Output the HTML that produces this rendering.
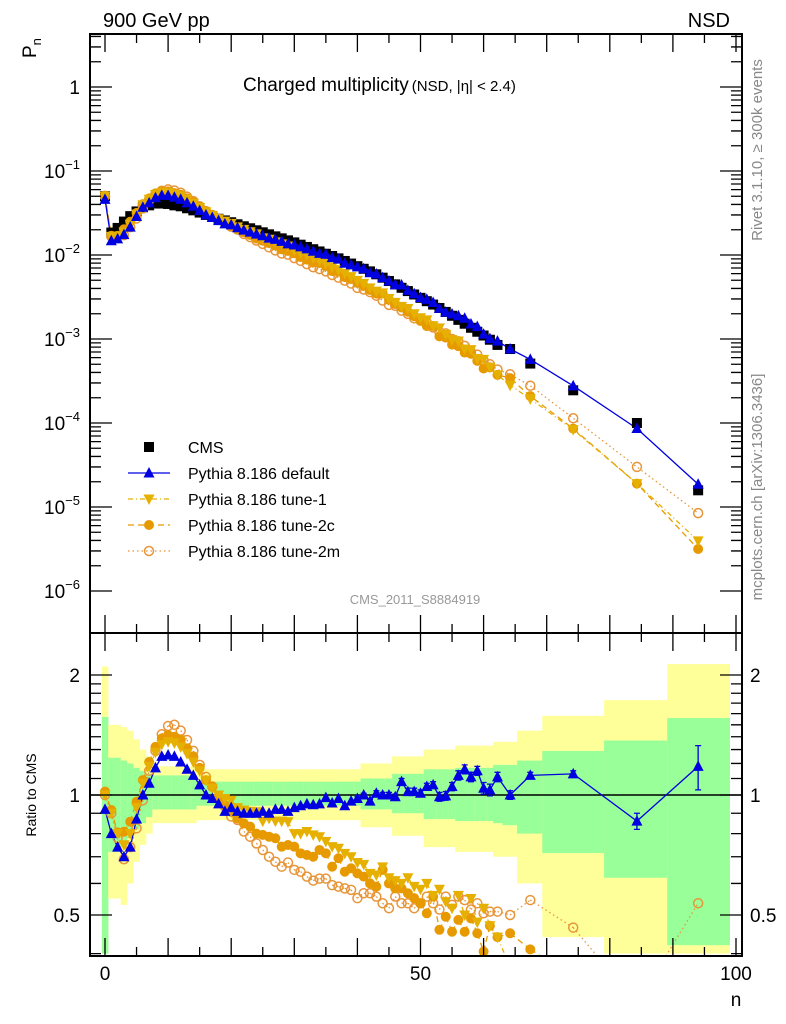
<!DOCTYPE html>
<html><head><meta charset="utf-8">
<style>
html,body{margin:0;padding:0;background:#fff;width:786px;height:1024px;overflow:hidden;}
svg{display:block;font-family:"Liberation Sans",Arial,sans-serif;}
</style></head>
<body>
<svg id="chart" width="786" height="1024" viewBox="0 0 786 1024" xmlns="http://www.w3.org/2000/svg">
<defs>
<clipPath id="clipMain"><rect x="90" y="34" width="652" height="599"/></clipPath>
<clipPath id="clipRatio"><rect x="90" y="633" width="652" height="323"/></clipPath>
</defs>
<g id="ratioBands" clip-path="url(#clipRatio)"></g>
<g id="ratioMarks" clip-path="url(#clipRatio)"></g>
<g id="mainMarks" clip-path="url(#clipMain)"></g>
<g id="axes"></g>
<text x="103" y="27" font-size="20">900 GeV pp</text>
<text x="730" y="27" font-size="20" text-anchor="end">NSD</text>
<text x="243" y="91" font-size="19">Charged multiplicity<tspan font-size="15" dx="3">(NSD, |η| &lt; 2.4)</tspan></text>
<text x="415" y="604" font-size="13" fill="#999" text-anchor="middle">CMS_2011_S8884919</text>
<text transform="translate(762,150) rotate(-90)" font-size="15" fill="#888" text-anchor="middle">Rivet 3.1.10, ≥ 300k events</text>
<text transform="translate(762,487) rotate(-90)" font-size="15" fill="#888" text-anchor="middle">mcplots.cern.ch [arXiv:1306.3436]</text>
<text transform="translate(36,58) rotate(-90)" font-size="19">P<tspan font-size="13" dy="5">n</tspan></text>
<text transform="translate(36,795) rotate(-90)" font-size="14" text-anchor="middle">Ratio to CMS</text>
<text x="736" y="1006" font-size="19" text-anchor="middle">n</text>
<g id="legend"></g>
</svg>
<script>
// ---- data ----
const nCenters = [0,1,2,3,4,5,6,7,8,9,10,11,12,13,14,15,16,17,18,19,20,21,22,23,24,25,26,27,28,29,30,31,32,33,34,35,36,37,38,39,40,41,42,43,44,45,46,47,48,49,50,51,52,53,54,55,56,57,58,59,60,61,62.2,64.2,67.4,74.2,84.3,94];
const extraEdges = [63,65.3,69.3,79.1,89.1,99];
const cmsValues = [0.05,0.0185,0.021,0.025,0.029,0.033,0.037,0.039,0.041,0.041,0.0405,0.039,0.038,0.036,0.034,0.032,0.030,0.0285,0.027,0.0258,
0.02455,0.02323,0.02198,0.0208,0.01968,0.01862,0.01762,0.01667,0.01578,0.01493,0.01413,0.01327,0.01247,0.01172,0.01102,0.01035,0.00973,0.00912,0.00849,0.00791,
0.00736,0.00685,0.00638,0.00589,0.00537,0.0049,0.00447,0.00407,0.00372,0.00339,0.00309,0.00282,0.00257,0.00234,0.0021,0.00189,0.00169,0.00152,0.00136,0.00122,
0.0011,0.00098,0.00085,0.00076,0.00051,0.000245,0.0001,0.0000158];
const ratioDefault = [.92,.80,.74,.70,.74,.87,1.0,1.07,1.17,1.25,1.26,1.25,1.21,1.16,1.12,1.06,1.0,.98,.95,.91,.93,.91,.9,.9,.9,.91,.9,.92,.92,.91,.93,.94,.95,.945,.95,.985,.955,.98,.94,.965,.98,1.0,.965,1.01,1.0,1.0,.99,1.08,1.02,1.02,1.01,1.05,1.06,.99,.995,1.05,1.12,1.16,1.11,1.15,1.04,1.03,1.11,1.0,1.12,1.13,.86,1.18];
const ratioTune1 = [1.0,.9,.8,.75,.8,.93,1.07,1.18,1.28,1.34,1.36,1.35,1.32,1.27,1.21,1.15,1.09,1.04,1.0,.98,.97,.93,.917,.91,.908,.86,.874,.86,.86,.857,.80,.80,.81,.794,.786,.765,.742,.735,.714,.70,.677,.67,.636,.63,.66,.62,.61,.6,.62,.59,.58,.6,.56,.58,.54,.52,.56,.5,.55,.48,.52,.47,.44,.37,.38,.34,.19,.25];
const ratioTune2c = [1.02,0.917,0.806,0.809,0.857,0.962,1.09,1.21,1.32,1.387,1.414,1.40,1.374,1.31,1.25,1.17,1.09,1.05,0.98,0.944,0.908,0.874,0.849,0.833,0.80,0.794,0.786,0.779,0.742,0.749,0.742,0.714,0.707,0.70,0.728,0.714,0.661,0.694,0.642,0.655,0.636,0.624,0.60,0.589,0.649,0.60,0.583,0.583,0.567,0.551,0.535,0.505,0.556,0.459,0.495,0.454,0.486,0.454,0.49,0.45,0.405,0.47,0.44,0.45,0.41,0.35,0.19,0.2];
const ratioTune2m = [1.0,.9,.78,.69,.74,.825,.97,1.15,1.29,1.42,1.49,1.50,1.45,1.374,1.29,1.19,1.11,1.05,.99,.935,.883,.866,.81,.786,.756,.728,.70,.68,.661,.677,.649,.642,.624,.61,.617,.617,.594,.589,.583,.578,.551,.567,.567,.556,.535,.52,.556,.535,.535,.52,.535,.556,.535,.516,.556,.53,.556,.545,.516,.535,.505,.51,.51,.50,.545,.465,.3,.535];
const errDefault = [0,0,0,0,0,0,0,0,0,0,0,0,0,0,0,0,0,0,0,0,0,0,0,0,0,0,0,0,0,0,0,0,0,0,0,0,0,0,0,0,.01,.01,.01,.015,.015,.015,.015,.02,.02,.02,.02,.02,.02,.025,.025,.025,.03,.03,.03,.03,.035,.035,.03,.025,.02,.02,.04,.15];
const greenUp = [1.57,1.24,1.24,1.22,1.2,1.17,1.15,1.13,1.12,1.12,1.12,1.12,1.12,1.12,1.12,1.08,1.08,1.08,1.08,1.08,1.08,1.08,1.08,1.08,1.08,1.08,1.08,1.08,1.08,1.08,1.08,1.08,1.08,1.08,1.08,1.08,1.08,1.08,1.08,1.08,1.08,1.1,1.1,1.1,1.1,1.1,1.13,1.13,1.13,1.13,1.13,1.16,1.16,1.16,1.16,1.16,1.17,1.17,1.17,1.17,1.17,1.17,1.19,1.19,1.22,1.29,1.37,1.56];
const greenDown = [.4,.72,.72,.74,.78,.82,.85,.88,.92,.92,.92,.92,.92,.92,.92,.94,.94,.94,.94,.94,.94,.94,.94,.94,.94,.94,.94,.94,.94,.94,.94,.94,.94,.94,.94,.94,.94,.94,.94,.94,.94,.92,.92,.92,.92,.92,.9,.9,.9,.9,.9,.87,.87,.87,.87,.87,.86,.86,.86,.86,.86,.86,.85,.84,.8,.715,.62,.42];
const yellowUp = [2.1,1.5,1.5,1.48,1.45,1.38,1.3,1.25,1.18,1.18,1.18,1.18,1.18,1.18,1.18,1.16,1.16,1.16,1.16,1.16,1.16,1.16,1.16,1.16,1.16,1.16,1.16,1.16,1.16,1.16,1.16,1.16,1.16,1.16,1.16,1.16,1.16,1.16,1.16,1.16,1.16,1.2,1.2,1.2,1.2,1.2,1.25,1.25,1.25,1.25,1.25,1.3,1.3,1.3,1.3,1.3,1.33,1.33,1.33,1.33,1.33,1.33,1.36,1.36,1.45,1.58,1.73,2.13];
const yellowDown = [.4,.55,.55,.53,.6,.68,.75,.8,.85,.85,.85,.85,.85,.85,.85,.865,.865,.865,.865,.865,.865,.865,.865,.865,.865,.865,.865,.865,.865,.865,.865,.865,.865,.865,.865,.865,.865,.865,.865,.865,.865,.83,.83,.83,.83,.83,.79,.79,.79,.79,.79,.74,.74,.74,.74,.74,.72,.72,.72,.72,.72,.72,.7,.7,.6,.44,.4,.4];
const mainTickLabels = ["1","10","10","10","10","10","10"];
const mainTickExps = ["","−1","−2","−3","−4","−5","−6"];
const ratioTicks = [0.5,1,2];
const ratioTickLabels = ["0.5","1","2"];
const xTicks = [0,50,100];
const xTickLabels = ["0","50","100"];

// ---- axis functions ----
const X0=90,X1=742,YT=34,YM=633,YB=956;
const xs = n => 105 + 6.31*n;
const ym = p => 87 - 84*Math.log10(p);
const yr = r => 795 - 120*Math.log2(r);
const NS="http://www.w3.org/2000/svg";
function mk(tag, attrs, parent){const e=document.createElementNS(NS,tag);for(const k in attrs)e.setAttribute(k,attrs[k]);parent.appendChild(e);return e;}

const edges=[];for(let i=0;i<=62;i++)edges.push(i-0.5);for(const e of extraEdges)edges.push(e);

// clip a line segment to vertical range [lo,hi]
function clipSeg(x1,y1,x2,y2,lo,hi){
  if((y1<lo&&y2<lo)||(y1>hi&&y2>hi))return null;
  const f=(yt)=> x1+(x2-x1)*(yt-y1)/(y2-y1);
  if(y1<lo){x1=f(lo);y1=lo;} else if(y1>hi){x1=f(hi);y1=hi;}
  if(y2<lo){x2=x1+(x2-x1)*0;} 
  return [x1,y1,x2,y2];
}
function clippedPath(xsArr,ysArr,lo,hi){
  let d='';
  for(let i=0;i<xsArr.length-1;i++){
    let x1=xsArr[i],y1=ysArr[i],x2=xsArr[i+1],y2=ysArr[i+1];
    if((y1<lo&&y2<lo)||(y1>hi&&y2>hi))continue;
    const ix=(yt)=> x1+(x2-x1)*(yt-y1)/(y2-y1);
    let ax=x1,ay=y1,bx=x2,by=y2;
    if(ay<lo){ax=ix(lo);ay=lo;} else if(ay>hi){ax=ix(hi);ay=hi;}
    if(by<lo){bx=ix(lo);by=lo;} else if(by>hi){bx=ix(hi);by=hi;}
    d+=`M${ax},${ay}L${bx},${by}`;
  }
  return d;
}

// bands
const gb=document.getElementById('ratioBands');
for(let i=0;i<nCenters.length;i++){
  const xa=xs(edges[i]),xb=xs(edges[i+1]);
  const yyT=Math.max(YM,yr(yellowUp[i])),yyB=Math.min(YB,yr(yellowDown[i]));
  const y1=mk('rect',{x:xa,y:yyT,width:xb-xa+0.3,height:yyB-yyT,fill:'#ffff99'},gb);
  
  
  const ygT=Math.max(YM,yr(greenUp[i])),ygB=Math.min(YB,yr(greenDown[i]));
  const g1=mk('rect',{x:xa,y:ygT,width:xb-xa+0.3,height:ygB-ygT,fill:'#99ff99'},gb);
  
  
}
const ref=mk('line',{x1:X0,x2:X1,y1:yr(1),y2:yr(1),stroke:'#000','stroke-width':1.5},gb);



const series=[
 {name:'pythia-default',ratio:ratioDefault,color:'#0000e0',dash:'',marker:'tri'},
 {name:'pythia-tune-1',ratio:ratioTune1,color:'#e6b000',dash:'5,3,1,3',marker:'tridown'},
 {name:'pythia-tune-2c',ratio:ratioTune2c,color:'#e69a00',dash:'6,4',marker:'circle'},
 {name:'pythia-tune-2m',ratio:ratioTune2m,color:'#e8953a',dash:'1.5,3',marker:'open'}
];
function marker(type,x,y,color,parent,s){
  s=s||1;let e;
  if(type==='sq') e=mk('rect',{x:x-5*s,y:y-5*s,width:10*s,height:10*s,fill:color},parent);
  else if(type==='tri') e=mk('polygon',{points:`${x},${y-6*s} ${x-5.5*s},${y+4.5*s} ${x+5.5*s},${y+4.5*s}`,fill:color},parent);
  else if(type==='tridown') e=mk('polygon',{points:`${x},${y+6*s} ${x-5.5*s},${y-4.5*s} ${x+5.5*s},${y-4.5*s}`,fill:color},parent);
  else if(type==='circle') e=mk('circle',{cx:x,cy:y,r:5*s,fill:color},parent);
  else e=mk('circle',{cx:x,cy:y,r:4.5*s,fill:'none',stroke:color,'stroke-width':1.5},parent);
  return e;
}
const gr=document.getElementById('ratioMarks');
const gm=document.getElementById('mainMarks');
for(const s of series.slice().reverse()){
  const xArr=nCenters.map(n=>xs(n));
  const yArr=nCenters.map((n,i)=>yr(s.ratio[i]));
  const lr=mk('path',{d:clippedPath(xArr,yArr,YM,YB),fill:'none',stroke:s.color,'stroke-width':1.3,'stroke-dasharray':s.dash},gr);
  
  
  const ptsM=nCenters.map((n,i)=>`${xs(n)},${ym(cmsValues[i]*s.ratio[i])}`).join(' ');
  const lm=mk('polyline',{points:ptsM,fill:'none',stroke:s.color,'stroke-width':1.3,'stroke-dasharray':s.dash},gm);
  
  
}
nCenters.forEach((n,i)=>{
  const m=marker('sq',xs(n),ym(cmsValues[i]),'#000',gm);
  
  
});
for(const s of series.slice().reverse()){
  nCenters.forEach((n,i)=>{
    const m=marker(s.marker,xs(n),ym(cmsValues[i]*s.ratio[i]),s.color,gm);
    
    
    const yy=yr(s.ratio[i]);
    if(yy>=YM-3 && yy<=YB+3){
      const mr=marker(s.marker,xs(n),yy,s.color,gr);
      
      
    }
    if(s.name==='pythia-default' && errDefault[i]>0){
      const x=xs(n),ya=yr(s.ratio[i]+errDefault[i]),yb=yr(s.ratio[i]-errDefault[i]);
      const eb=mk('path',{d:`M${x},${ya}V${yb}M${x-3},${ya}H${x+3}M${x-3},${yb}H${x+3}`,stroke:s.color,'stroke-width':1.3,fill:'none'},gr);
      
      
    }
  });
}

// axes
const ga=document.getElementById('axes');
const f1=mk('rect',{x:X0,y:YT,width:X1-X0,height:YM-YT,fill:'none',stroke:'#000','stroke-width':2},ga);


const f2=mk('rect',{x:X0,y:YM,width:X1-X0,height:YB-YM,fill:'none',stroke:'#000','stroke-width':2},ga);


let td='';
for(let d=0;d>=-6;d--){
  for(let m=1;m<=9;m++){
    const y=ym(m*Math.pow(10,d));
    if(y<YT||y>YM)continue;
    const L=m===1?22:11;
    td+=`M${X0},${y}h${L}M${X1},${y}h${-L}`;
  }
}
for(let m=2;m<=4;m++){const y=ym(m);if(y>YT)td+=`M${X0},${y}h11M${X1},${y}h-11`;}
const rt=[0.4,0.5,0.6,0.7,0.8,0.9,1,1.1,1.2,1.3,1.4,1.5,1.6,1.7,1.8,1.9,2];
for(const r of rt){const y=yr(r);if(y>YB||y<YM)continue;const L=(r===0.5||r===1||r===2)?22:11;td+=`M${X0},${y}h${L}M${X1},${y}h${-L}`;}
for(let n=0;n<=100;n+=5){const x=xs(n);const L=n%10===0?18:9;td+=`M${x},${YT}v${L}M${x},${YM}v${-L}M${x},${YM}v${L}M${x},${YB}v${-L}`;}
const tk=mk('path',{d:td,stroke:'#000','stroke-width':1.3,fill:'none'},ga);


mainTickLabels.forEach((lab,i)=>{
  const y=ym(Math.pow(10,-i));
  const t=mk('text',{x:i===0?80:62,y:y+7,'font-size':19,'text-anchor':i===0?'end':'middle'},ga);
  t.textContent=lab;
  if(mainTickExps[i]){const sp=mk('tspan',{'font-size':13,dy:-9},t);sp.textContent=mainTickExps[i];}
  
  
});
ratioTicks.forEach((r,i)=>{
  const t=mk('text',{x:80,y:yr(r)+7,'font-size':19,'text-anchor':'end'},ga);
  t.textContent=ratioTickLabels[i];
  
  
  const t2=mk('text',{x:750,y:yr(r)+7,'font-size':19},ga);
  t2.textContent=ratioTickLabels[i];
  
  
});
xTicks.forEach((n,i)=>{
  const t=mk('text',{x:xs(n),y:980,'font-size':19,'text-anchor':'middle'},ga);
  t.textContent=xTickLabels[i];
  
  
});

// legend
const gl=document.getElementById('legend');
const legItems=[
 {label:'CMS',marker:'sq',color:'#000',dash:null},
 {label:'Pythia 8.186 default',marker:'tri',color:'#0000e0',dash:''},
 {label:'Pythia 8.186 tune-1',marker:'tridown',color:'#e6b000',dash:'5,3,1,3'},
 {label:'Pythia 8.186 tune-2c',marker:'circle',color:'#e69a00',dash:'6,4'},
 {label:'Pythia 8.186 tune-2m',marker:'open',color:'#e8953a',dash:'1.5,3'}
];
legItems.forEach((it,i)=>{
  const y=447+26*i;
  const g=mk('g',{},gl);
  
  
  if(it.dash!==null) mk('line',{x1:128,x2:170,y1:y,y2:y,stroke:it.color,'stroke-width':1.3,'stroke-dasharray':it.dash},g);
  marker(it.marker,149,y,it.color,g);
  const t=mk('text',{x:188,y:y+6,'font-size':16},g);
  t.textContent=it.label;
});
</script>
</body></html>
